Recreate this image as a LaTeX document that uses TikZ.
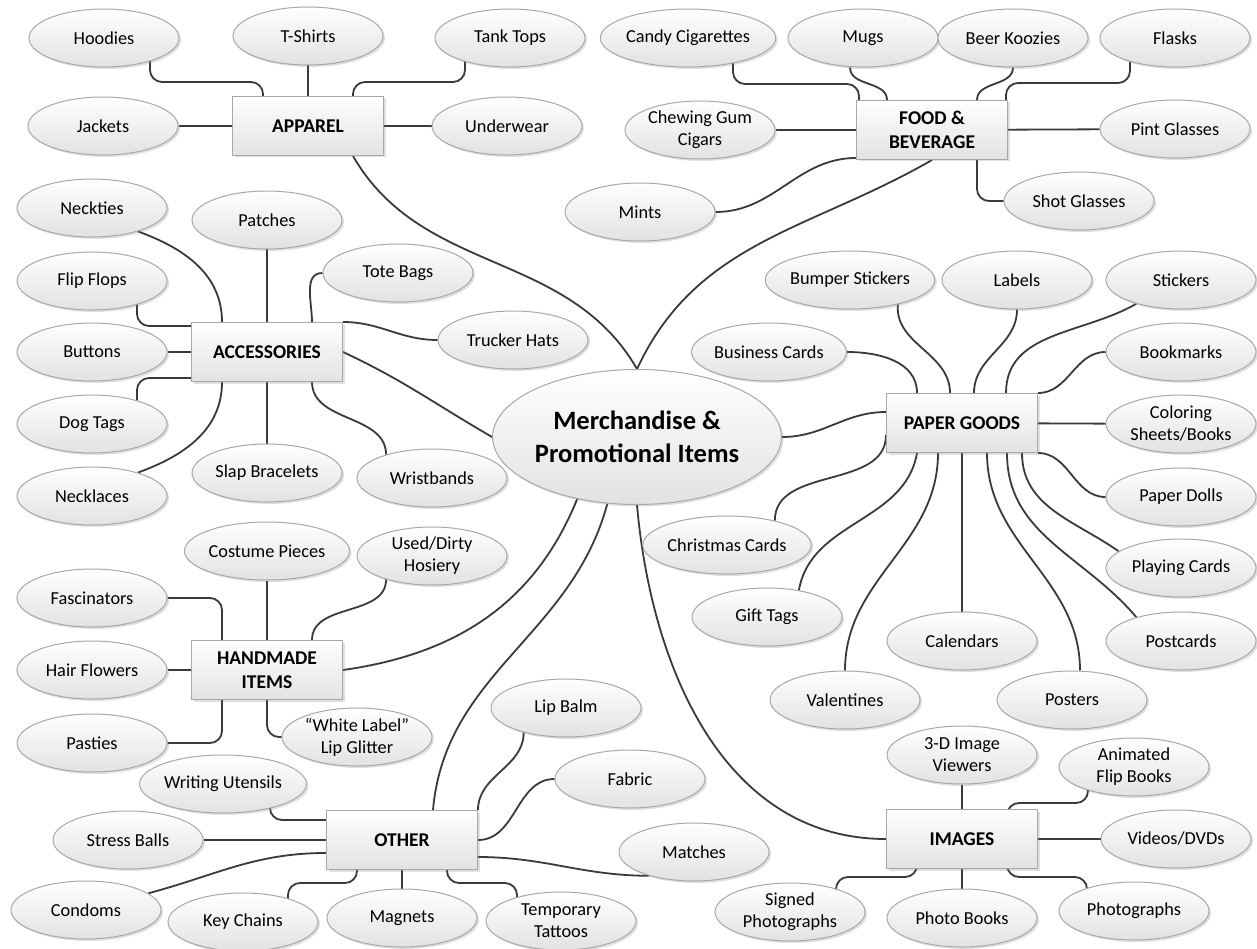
\documentclass[tikz,border=0pt]{standalone}
\usepackage{fontspec}
\setmainfont{Carlito}
\usetikzlibrary{shapes.geometric,shadows,backgrounds}

\definecolor{linegray}{HTML}{3A3A3A}
\definecolor{ringgray}{HTML}{A8A8A8}
\definecolor{fillgray}{HTML}{E2E2E2}

\tikzset{
  leaf/.style={ellipse, draw=ringgray, line width=1pt, top color=white, bottom color=fillgray,
    minimum width=150pt, minimum height=58pt, inner sep=0pt, align=center,
    font=\fontsize{18.3}{22}\selectfont,
    drop shadow={shadow xshift=2pt, shadow yshift=-2pt, opacity=.25}},
  category/.style={rectangle, draw=ringgray, line width=1pt, top color=white, bottom color=fillgray,
    minimum width=151pt, minimum height=59pt, inner sep=0pt, align=center,
    font=\bfseries\fontsize{19.5}{24}\selectfont,
    drop shadow={shadow xshift=2pt, shadow yshift=-2pt, opacity=.25}},
  hub/.style={leaf, minimum width=266pt, minimum height=135pt,
    font=\bfseries\fontsize{26.5}{33}\selectfont},
  link/.style={draw=linegray, line width=1.8pt, rounded corners=12pt},
}

\begin{document}
\begin{tikzpicture}[x=1pt, y=1pt]
    \useasboundingbox (0,0) rectangle (1257,-949);

    \node[hub] (central) at (637,-437) {Merchandise \&\\Promotional Items};

    % apparel
    \node[category] (apparel) at (308,-126) {APPAREL};
    \node[leaf] (hoodies) at (104,-38) {Hoodies};
    \node[leaf] (tshirts) at (308,-36) {T-Shirts};
    \node[leaf] (tanktops) at (510,-38) {Tank Tops};
    \node[leaf] (jackets) at (103,-126) {Jackets};
    \node[leaf] (underwear) at (507,-126) {Underwear};

    % food & beverage
    \node[category] (food) at (932,-130) {FOOD \&\\BEVERAGE};
    \node[leaf] (candy) at (688,-38) {Candy Cigarettes};
    \node[leaf] (mugs) at (863,-38) {Mugs};
    \node[leaf] (koozies) at (1013,-38) {Beer Koozies};
    \node[leaf] (flasks) at (1175,-38) {Flasks};
    \node[leaf] (gum) at (700,-130) {Chewing Gum\\Cigars};
    \node[leaf] (pint) at (1175,-129) {Pint Glasses};
    \node[leaf] (mints) at (640,-212) {Mints};
    \node[leaf] (shot) at (1079,-201) {Shot Glasses};

    % accessories
    \node[category] (acc) at (267,-352) {ACCESSORIES};
    \node[leaf] (neckties) at (92,-208) {Neckties};
    \node[leaf] (patches) at (267,-220) {Patches};
    \node[leaf] (totebags) at (398,-273) {Tote Bags};
    \node[leaf] (flipflops) at (92,-281) {Flip Flops};
    \node[leaf] (truckerhats) at (513,-340) {Trucker Hats};
    \node[leaf] (buttons) at (92,-352) {Buttons};
    \node[leaf] (dogtags) at (92,-424) {Dog Tags};
    \node[leaf] (slap) at (267,-473) {Slap Bracelets};
    \node[leaf] (wristbands) at (432,-478) {Wristbands};
    \node[leaf] (necklaces) at (92,-496) {Necklaces};

    % handmade items
    \node[category] (hand) at (267,-670) {HANDMADE\\ITEMS};
    \node[leaf] (costume) at (267,-551) {Costume Pieces};
    \node[leaf] (useddirty) at (432,-556) {Used/Dirty\\Hosiery};
    \node[leaf] (fascinators) at (92,-598) {Fascinators};
    \node[leaf] (hairflowers) at (92,-670) {Hair Flowers};
    \node[leaf] (pasties) at (92,-743) {Pasties};
    \node[leaf] (whitelabel) at (357,-737) {“White Label”\\Lip Glitter};

    % other
    \node[category] (other) at (402,-840) {OTHER};
    \node[leaf] (writing) at (223,-784) {Writing Utensils};
    \node[leaf] (stress) at (128,-840) {Stress Balls};
    \node[leaf] (condoms) at (86,-910) {Condoms};
    \node[leaf] (keychains) at (243,-922) {Key Chains};
    \node[leaf] (magnets) at (402,-918) {Magnets};
    \node[leaf] (tattoos) at (561,-921) {Temporary\\Tattoos};
    \node[leaf] (lipbalm) at (566,-708) {Lip Balm};
    \node[leaf] (fabric) at (630,-779) {Fabric};
    \node[leaf] (matches) at (694,-852) {Matches};

    % paper goods
    \node[category] (paper) at (962,-423) {PAPER GOODS};
    \node[leaf] (bumper) at (850,-280) {Bumper Stickers};
    \node[leaf] (labels) at (1017,-280) {Labels};
    \node[leaf] (stickers) at (1181,-280) {Stickers};
    \node[leaf] (business) at (769,-352) {Business Cards};
    \node[leaf] (bookmarks) at (1181,-352) {Bookmarks};
    \node[leaf] (coloring) at (1181,-424) {Coloring\\Sheets/Books};
    \node[leaf] (dolls) at (1181,-497) {Paper Dolls};
    \node[leaf] (playing) at (1181,-568) {Playing Cards};
    \node[leaf] (postcards) at (1181,-641) {Postcards};
    \node[leaf] (christmas) at (727,-545) {Christmas Cards};
    \node[leaf] (gifttags) at (767,-617) {Gift Tags};
    \node[leaf] (valentines) at (845,-700) {Valentines};
    \node[leaf] (calendars) at (962,-641) {Calendars};
    \node[leaf] (posters) at (1072,-700) {Posters};

    % images
    \node[category] (images) at (962,-839) {IMAGES};
    \node[leaf] (viewers) at (962,-755) {3-D Image\\Viewers};
    \node[leaf] (animated) at (1134,-767) {Animated\\Flip Books};
    \node[leaf] (videos) at (1176,-839) {Videos/DVDs};
    \node[leaf] (signed) at (790,-912) {Signed\\Photographs};
    \node[leaf] (photobooks) at (962,-918) {Photo Books};
    \node[leaf] (photographs) at (1134,-911) {Photographs};

    \begin{scope}[on background layer]
        \fill[white] (0,0) rectangle (1257,-949);

        % hub
        \draw[link] ([xshift=45]apparel.south) to[out=-60, in=120] (central.north);
        \draw[link] (food.south) to[out=-150, in=65] (central.north);
        \draw[link] (acc.east) to[out=-25, in=150] (central.west);
        \draw[link] (hand.east) to[out=8, in=-112] (central.-134);
        \draw[link] ([xshift=31]other.north) to[out=85, in=-105] (central.-114);
        \draw[link] (central.-90) to[out=-85, in=180] (images.west);
        \draw[link] (central.east) to[out=0, in=180] ([yshift=11]paper.west);

        % apparel
        \draw[link] ([xshift=46]hoodies.center) -- ++(0,-44) -| ([xshift=-45]apparel.center);
        \draw[link] (tshirts) -- (apparel);
        \draw[link] ([xshift=-45]tanktops.center) -- ++(0,-44) -| ([xshift=45]apparel.center);
        \draw[link] (jackets) -- (apparel);
        \draw[link] (underwear) -- (apparel);

        % food & beverage
        \draw[link] ([xshift=45]candy.center) -- ++(0,-46) -| ([xshift=-73]food.center);
        \draw[link] ([xshift=-13]mugs.south) to[out=-90, in=90] ([xshift=-45]food.north);
        \draw[link] (koozies.south) to[out=-90, in=90] ([xshift=45]food.north);
        \draw[link] ([xshift=-45]flasks.center) -- ++(0,-45) -| ([xshift=74]food.center);
        \draw[link] (gum) -- (food);
        \draw[link] (pint) -- (food);
        \draw[link] ([xshift=45]food.center) |- (shot);
        \draw[link] (mints.east) to[out=0, in=180] ([yshift=-28]food.west);

        % accessories
        \draw[link] (neckties.-27) to[out=-20, in=90] ([xshift=-45]acc.north);
        \draw[link] (patches) -- (acc);
        \draw[link] (totebags.west) to[out=180, in=90] ([xshift=45]acc.north);
        \draw[link] ([xshift=45]flipflops.center) |- ([yshift=26]acc.west);
        \draw[link] (acc.north east) to[out=0, in=180] (truckerhats.west);
        \draw[link] (buttons) -- (acc);
        \draw[link] ([xshift=45]dogtags.center) |- ([yshift=-26]acc.west);
        \draw[link] (slap) -- (acc);
        \draw[link] ([xshift=45]acc.south) to[out=-90, in=90] (wristbands.153);
        \draw[link] (necklaces.27) to[out=20, in=-90] ([xshift=-45]acc.south);

        % handmade items
        \draw[link] (costume) -- (hand);
        \draw[link] (useddirty.-153) to[out=-90, in=90] ([xshift=45]hand.north);
        \draw[link] (fascinators.east) -| ([xshift=-45]hand.north);
        \draw[link] (hairflowers) -- (hand);
        \draw[link] (pasties.east) -| ([xshift=-45]hand.south);
        \draw[link] (hand.south) |- (whitelabel);

        % other
        \draw[link] ([xshift=47]writing.center) |- ([yshift=20]other.west);
        \draw[link] (stress) -- (other);
        \draw[link] (condoms.15) to[out=15, in=180] ([yshift=-13]other.west);
        \draw[link] ([xshift=45]keychains.center) -- ++(0,39) -| ([xshift=-45]other.center);
        \draw[link] (magnets) -- (other);
        \draw[link] ([xshift=45]other.center) -- ++(0,-43) -| ([xshift=-44]tattoos.center);
        \draw[link] ([yshift=-17]other.east) to[out=0, in=180] (matches.-152);
        \draw[link] (fabric.west) to[out=180, in=0] (other.east);
        \draw[link] (other.north east) to[out=90, in=-90] (lipbalm.-150);

        % paper goods
        \draw[link] (business.east) to[out=0, in=90] ([xshift=-45]paper.north);
        \draw[link] (bumper.-27) to[out=-95, in=90] ([xshift=-12]paper.north);
        \draw[link] (labels.south) to[out=-90, in=90] ([xshift=12]paper.north);
        \draw[link] (stickers.-152) to[out=-150, in=90] ([xshift=44]paper.north);
        \draw[link] (bookmarks.west) to[out=180, in=0] (paper.north east);
        \draw[link] (coloring) -- (paper);
        \draw[link] (paper.south east) to[out=0, in=180] (dolls.west);
        \draw[link] ([xshift=60]paper.south) to[out=-90, in=145] (playing.165);
        \draw[link] ([xshift=45]paper.south) to[out=-90, in=130] (postcards.152);
        \draw[link] ([xshift=25]paper.south) to[out=-90, in=90] ([xshift=8]posters.north);
        \draw[link] (paper) -- (calendars);
        \draw[link] ([xshift=-24]paper.south) to[out=-90, in=90] (valentines.north);
        \draw[link] ([xshift=-45]paper.south) to[out=-100, in=80] (gifttags.40);
        \draw[link] ([yshift=-12]paper.west) to[out=-90, in=90] (christmas.27);

        % images
        \draw[link] (viewers) -- (images);
        \draw[link] ([xshift=-46]animated.center) -- ++(0,-36) -| ([xshift=45]images.center);
        \draw[link] (videos) -- (images);
        \draw[link] ([xshift=-45]images.center) -- ++(0,-38) -| ([xshift=46]signed.center);
        \draw[link] (photobooks) -- (images);
        \draw[link] ([xshift=45]images.center) -- ++(0,-38) -| ([xshift=-47]photographs.center);
    \end{scope}
\end{tikzpicture}
\end{document}
